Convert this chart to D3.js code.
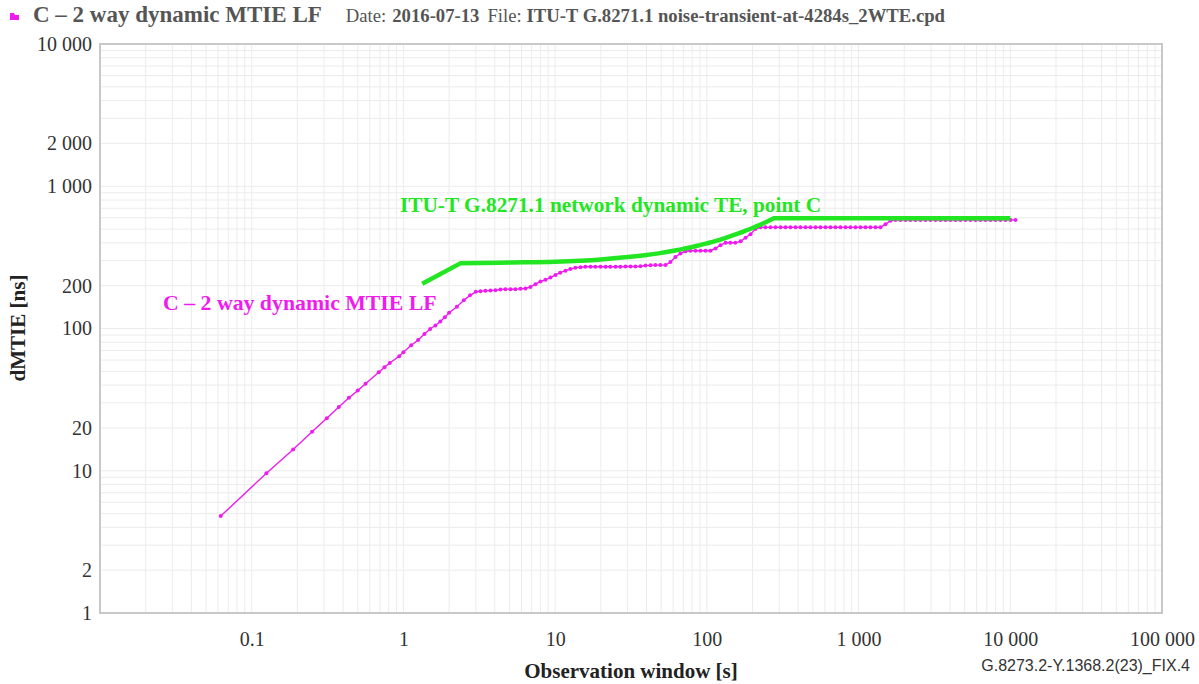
<!DOCTYPE html>
<html><head><meta charset="utf-8">
<script src="https://cdn.jsdelivr.net/npm/d3@7"></script>
<style>body{margin:0;background:#fff}svg{display:block}</style>
</head><body>
<svg id="c" width="1199" height="684"></svg>
<script>
// ---------- data ----------
const xTickValues = [0.1, 1, 10, 100, 1000, 10000, 100000];
const yTickValues = [1, 2, 10, 20, 100, 200, 1000, 2000, 10000];

const mtieTau = [0.0625,0.125,0.1875,0.25,0.3125,0.375,0.4375,0.5,0.5625,0.6875,0.75,0.8125,0.9375,1,1.125,1.25,1.375,1.5,1.625,1.75,1.875,2,2.25,2.5,2.75,
 3.0,3.22,3.47,3.75,4.04,4.36,4.70,5.08,5.47,5.91,6.37,6.88,7.42,8.0,8.63,9.31,10.05,10.8,11.7,12.6,13.6,14.7,15.8,17.1,18.4,19.9,21.5,23.1,25.0,26.9,29.1,31.4,33.8,36.5,39.4,42.5,45.8,49.4,53.4,57.5,62.1,67.0,72.3,78.0,84.1,90.7,97.9,105.6,114,123,133,143,154,167,180,194,209,226,
 243,263,283,306,330,356,384,414,447,482,520,561,605,653,704,760,820,885,954,1029,1110,1198,1292,1394,1504,1623,1751,
 1889,2038,2198,2372,2559,2761,2979,3214,3467,3741,4036,4354,4697,5068,5467,5898,6363,6865,7406,7990,8621,9300,10030,10820];
const mtieVal = [4.8,9.6,14.1,18.8,23.4,28.1,32.6,36.6,40.9,49.2,53.4,57.2,63.8,68,76.2,83,91.5,99.3,105,112,120,129,142,158,171,
 181,183,184,185,186,188,189,189,189,190,191,196,205,214,220,228,238,247,255,262,267,270,272,272,272,272,272,272,272,272,273,273,273,274,277,278,279,279,279,293,318,337,349,352,352,352,352,352,365,385,401,401,401,410,435,460,500,514,
 514,514,514,514,514,514,514,514,514,514,514,514,514,514,514,514,514,514,514,514,514,514,514,514,540,572,580,
 580,580,580,580,580,580,580,580,580,580,580,580,580,580,580,580,580,580,580,580,580,580,580,580];

const maskTau = [1.33, 2.37, 5, 10, 20, 30, 40, 50, 60, 70, 80, 90, 100, 115, 130, 145, 160, 180, 200, 220, 240, 260, 276, 10000];
const maskVal = [206, 287, 291, 295, 306, 318, 329, 340, 352, 363, 374, 386, 397, 413, 430, 447, 464, 487, 509, 531, 554, 577, 595, 595];

// ---------- layout ----------
const svg = d3.select("#c");
const L = 100, R = 1162, T = 44, B = 613;
const x = d3.scaleLog().domain([0.01, 100000]).range([L, R]);
const y = d3.scaleLog().domain([1, 10000]).range([B, T]);
const loc = d3.formatLocale({decimal: ".", thousands: " ", grouping: [3], currency: ["", ""]});
const fmtInt = loc.format(",d");
const fmt = v => v < 1 ? String(v) : fmtInt(v);
const serif = "'Liberation Serif','Times New Roman',serif";
const magenta = "#ee1cee", green = "#22e622";

// grid
const g = svg.append("g");
g.selectAll("line.vx").data(x.ticks()).join("line")
  .attr("x1", d => x(d)).attr("x2", d => x(d)).attr("y1", T).attr("y2", B)
  .attr("stroke", "#ececec").attr("stroke-width", 1);
g.selectAll("line.hy").data(y.ticks()).join("line")
  .attr("y1", d => y(d)).attr("y2", d => y(d)).attr("x1", L).attr("x2", R)
  .attr("stroke", "#ececec").attr("stroke-width", 1);
// frame
svg.append("rect").attr("x", L).attr("y", T).attr("width", R - L).attr("height", B - T)
  .attr("fill", "none").attr("stroke", "#c8c8c8").attr("stroke-width", 2);

// axes
const xa = svg.append("g").attr("transform", `translate(0,${B})`)
  .call(d3.axisBottom(x).tickValues(xTickValues).tickFormat(fmt).tickSize(0).tickPadding(19));
const ya = svg.append("g").attr("transform", `translate(${L},0)`)
  .call(d3.axisLeft(y).tickValues(yTickValues).tickFormat(fmt).tickSize(0).tickPadding(8));
[xa, ya].forEach(a => {
  a.select(".domain").remove();
  a.selectAll("text").attr("font-family", serif).attr("font-size", 20).attr("fill", "#333");
});

// axis titles
svg.append("text").attr("x", 631).attr("y", 678).attr("text-anchor", "middle")
  .attr("font-family", serif).attr("font-weight", "bold").attr("font-size", 21).attr("fill", "#222")
  .text("Observation window [s]");
svg.append("text").attr("transform", "translate(25,328) rotate(-90)").attr("text-anchor", "middle")
  .attr("font-family", serif).attr("font-weight", "bold").attr("font-size", 21).attr("fill", "#222")
  .text("dMTIE [ns]");
svg.append("text").attr("x", 1190).attr("y", 671).attr("text-anchor", "end")
  .attr("font-family", "'Liberation Sans Narrow','Liberation Sans',Arial,sans-serif").attr("font-size", 16).attr("fill", "#333")
  .text("G.8273.2-Y.1368.2(23)_FIX.4");

// title
svg.append("path").attr("d", "M10,13 L14,13 L15,15 L19,15 L19,20 L10,20 Z").attr("fill", magenta);
const t = svg.append("text").attr("x", 33).attr("y", 22).attr("font-family", serif).attr("fill", "#555");
t.append("tspan").attr("font-weight", "bold").attr("font-size", 23).text("C – 2 way dynamic MTIE LF");
t.append("tspan").attr("font-size", 18.7).attr("dx", 24).text("Date:");
t.append("tspan").attr("font-size", 18.7).attr("font-weight", "bold").attr("dx", 6).text("2016-07-13");
t.append("tspan").attr("font-size", 18.7).attr("dx", 8).text("File: ");
t.append("tspan").attr("font-size", 18.7).attr("font-weight", "bold").text("ITU-T G.8271.1 noise-transient-at-4284s_2WTE.cpd");

// series
const mtie = mtieTau.map((d, i) => [d, mtieVal[i]]);
const mask = maskTau.map((d, i) => [d, maskVal[i]]);
const line = d3.line().x(d => x(d[0])).y(d => y(d[1]));
const smooth = d3.line().x(d => x(d[0])).y(d => y(d[1])).curve(d3.curveMonotoneX);
svg.append("path").attr("d", line(mtie)).attr("fill", "none").attr("stroke", magenta).attr("stroke-width", 1.4);
svg.selectAll("circle.m").data(mtie).join("circle")
  .attr("cx", d => x(d[0])).attr("cy", d => y(d[1])).attr("r", 2).attr("fill", magenta);
const n = mask.length;
const maskPath = line(mask.slice(0, 2)) + smooth(mask.slice(1, n - 1)).replace(/^M/, "L") + line(mask.slice(n - 2)).replace(/^M/, "L");
svg.append("path").attr("d", maskPath).attr("fill", "none")
  .attr("stroke", green).attr("stroke-width", 4.5).attr("stroke-linejoin", "round");

// labels
svg.append("text").attr("x", 400).attr("y", 212).attr("font-family", serif).attr("font-weight", "bold")
  .attr("font-size", 21.3).attr("fill", green).text("ITU-T G.8271.1 network dynamic TE, point C");
svg.append("text").attr("x", 163).attr("y", 310).attr("font-family", serif).attr("font-weight", "bold")
  .attr("font-size", 21.8).attr("fill", magenta).text("C – 2 way dynamic MTIE LF");
</script>
</body></html>
